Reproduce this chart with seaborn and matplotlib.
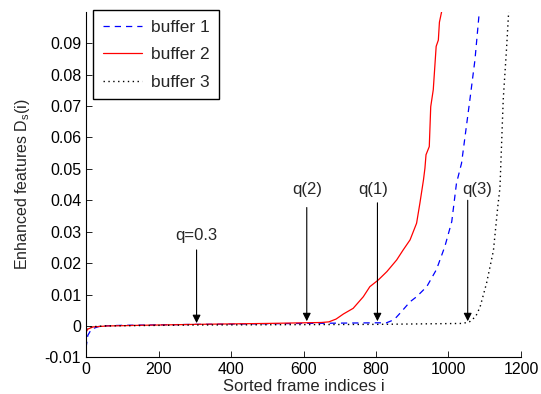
import numpy as np
import pandas as pd
import seaborn as sns
import matplotlib.pyplot as plt

# sorted frame index / enhanced feature value
buf1_i = [0, 5, 15, 40, 100, 300, 600, 800, 829, 850, 866, 894, 912, 940, 967, 990,
          1009, 1022, 1036, 1059, 1073, 1085]
buf1_d = [-0.007, -0.003, -0.001, 0.0, 0.0002, 0.0005, 0.0008, 0.001, 0.001, 0.002,
          0.004, 0.0077, 0.0093, 0.0125, 0.018, 0.0253, 0.0332, 0.0454, 0.0518, 0.072,
          0.0847, 0.1]

buf2_i = [0, 5, 20, 60, 150, 300, 500, 600, 650, 670, 690, 710, 737, 765, 783, 806, 830,
          857, 875, 894, 912, 921, 931, 935, 938, 947, 951, 958, 966, 972, 975, 981]
buf2_d = [-0.002, -0.001, -0.0003, 0.0, 0.0002, 0.0005, 0.0008, 0.001, 0.0011, 0.0013,
          0.0022, 0.0038, 0.0056, 0.0093, 0.0125, 0.0146, 0.0173, 0.021, 0.0242, 0.0274,
          0.0327, 0.039, 0.0465, 0.0502, 0.0545, 0.0571, 0.0698, 0.0752, 0.089, 0.091,
          0.0967, 0.1]

buf3_i = [0, 10, 50, 300, 800, 1040, 1059, 1075, 1087, 1105, 1124, 1136, 1142, 1151, 1160, 1166]
buf3_d = [-0.001, -0.0003, 0.0, 0.0003, 0.0005, 0.0008, 0.0014, 0.003, 0.006, 0.0136,
          0.024, 0.038, 0.044, 0.072, 0.088, 0.1]

# annotations: label, arrow x, label x, label y, arrow start y, arrow tip y
marks = [
    ('q=0.3', 305, 305, 0.0287, 0.0242, 0.0009),
    ('q(2)', 609, 609, 0.0433, 0.0377, 0.0015),
    ('q(1)', 804, 793, 0.0433, 0.0392, 0.0015),
    ('q(3)', 1053, 1080, 0.0433, 0.0400, 0.0015),
]

sns.set_style('ticks')
plt.rcParams['font.family'] = ['Liberation Sans', 'DejaVu Sans']
plt.rcParams['font.size'] = 12
plt.rcParams['xtick.direction'] = 'in'
plt.rcParams['ytick.direction'] = 'in'

fig = plt.figure(figsize=(5.41, 3.94), dpi=100)
ax = fig.add_axes([0.159, 0.093, 0.804, 0.877])

sns.lineplot(x=buf1_i, y=buf1_d, ax=ax, color='blue', lw=0.9, linestyle=(0, (5, 4)),
             label='buffer 1', estimator=None, sort=False)
sns.lineplot(x=buf2_i, y=buf2_d, ax=ax, color='red', lw=0.9, linestyle='-',
             label='buffer 2', estimator=None, sort=False)
sns.lineplot(x=buf3_i, y=buf3_d, ax=ax, color='black', lw=1.0, linestyle=(0, (1, 2.5)),
             label='buffer 3', estimator=None, sort=False)

for txt, ax_x, tx, ty, y0, y1 in marks:
    ax.annotate('', xy=(ax_x, y1), xytext=(ax_x, y0),
                arrowprops=dict(arrowstyle='-|>', color='black', lw=0.8,
                                mutation_scale=12, shrinkA=0, shrinkB=0))
    ax.text(tx, ty, txt, ha='center', va='center', fontsize=12)

ax.set_xlim(0, 1200)
ax.set_ylim(-0.01, 0.1)
ax.set_xticks(np.arange(0, 1201, 200))
ax.set_yticks(np.round(np.arange(-0.01, 0.0901, 0.01), 2))
ax.set_yticklabels(['-0.01', '0'] + ['%.2f' % v for v in np.arange(0.01, 0.0901, 0.01)])
ax.tick_params(length=4, width=0.6, color='black', labelcolor='black', labelsize=11.5)
for side in ['top', 'right']:
    ax.spines[side].set_visible(False)
for side in ['left', 'bottom']:
    ax.spines[side].set_color('black')
    ax.spines[side].set_linewidth(0.8)

ax.set_xlabel('Sorted frame indices i', fontsize=12, labelpad=1)
ax.set_ylabel(r'Enhanced features D$_\mathregular{s}$(i)', fontsize=11.5, labelpad=9)

leg = ax.legend(loc='upper left', bbox_to_anchor=(0.016, 1.004), borderaxespad=0,
                fancybox=False, framealpha=1, edgecolor='black', fontsize=12.5,
                handlelength=2.3, handletextpad=0.5, labelspacing=0.7, borderpad=0.55)
leg.get_frame().set_linewidth(1.0)

fig.savefig('out.png', dpi=100)
